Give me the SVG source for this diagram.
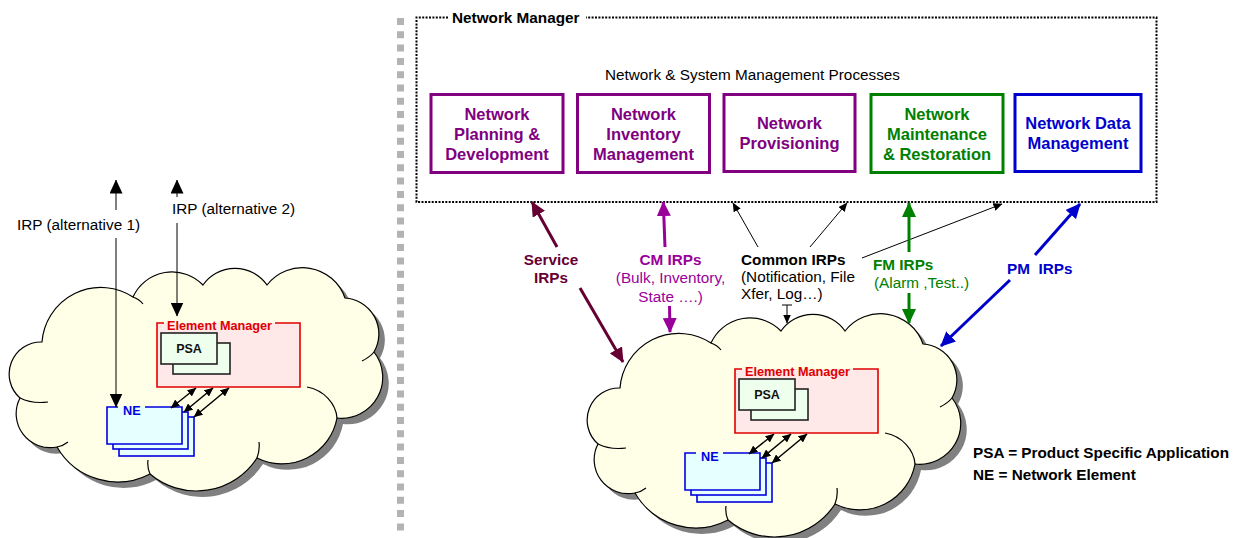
<svg xmlns="http://www.w3.org/2000/svg" width="1239" height="538" viewBox="0 0 1239 538">
<style>
text{font-family:"Liberation Sans",Arial,Helvetica,sans-serif;}
.b{font-weight:bold}
.s15{font-size:15.3px}
.s16{font-size:16.5px}
.s12{font-size:12.7px}
.mid{text-anchor:middle}
.cloud{fill:#FFFEE6;stroke:#000;stroke-width:1.2}
.shadow{fill:#808080;stroke:none}
.crease{fill:none;stroke:#000;stroke-width:1.2}
.proc{fill:#fff;stroke-width:3}
.emf{fill:#FFE8E8;stroke:none}
.emb{fill:none;stroke:#E00000;stroke-width:1.6}
.psa{fill:#EEFFEE;stroke:#222;stroke-width:1.6}
.nef{fill:#E6FFFF;stroke:#0000E0;stroke-width:1.6}
.nefill{fill:#E6FFFF;stroke:none}
.neb{fill:none;stroke:#0000E0;stroke-width:1.6}
.ln1{fill:none;stroke:#000;stroke-width:1}
.lnM{fill:none;stroke:#000;stroke-width:1.5}
.thick{fill:none;stroke-width:3}
</style>
<defs>
<path id="cloudPath" d="M42,342 A59,59 0 0 1 133,297 A43,43 0 0 1 203,285 A39,39 0 0 1 267,285 A45,45 0 0 1 345,298 A36,36 0 0 1 374,352 A41,41 0 0 1 337,418 A56,56 0 0 1 257,458 A72,72 0 0 1 150,474 A70,70 0 0 1 57,447 A34,34 0 0 1 20,398 A32,32 0 0 1 42,342 Z"/>
<path id="cloudCreases" d="M20,398 Q32,404 48,402 M57,447 Q63,446 68,442 M150,474 Q147,467 148,460 M257,458 Q260,450 259,442 M337,418 C336,404 324,390 307,387 M374,352 Q370,357 362,361 M133,297 Q139,299 143,304"/>
<marker id="hBlkL" markerUnits="userSpaceOnUse" viewBox="0 0 14 13" markerWidth="14" markerHeight="13" refX="13.5" refY="6.5" orient="auto-start-reverse"><path d="M0,0 L14,6.5 L0,13 Z" fill="#000"/></marker>
<marker id="hBlkS" markerUnits="userSpaceOnUse" viewBox="0 0 9 8" markerWidth="9" markerHeight="8" refX="8.5" refY="4" orient="auto-start-reverse"><path d="M0,0 L9,4 L0,8 Z" fill="#000"/></marker>
<marker id="hMaroon" markerUnits="userSpaceOnUse" viewBox="0 0 15 14" markerWidth="15" markerHeight="14" refX="14" refY="7" orient="auto-start-reverse"><path d="M0,0 L15,7 L0,14 Z" fill="#660033"/></marker>
<marker id="hPurple" markerUnits="userSpaceOnUse" viewBox="0 0 15 14" markerWidth="15" markerHeight="14" refX="14" refY="7" orient="auto-start-reverse"><path d="M0,0 L15,7 L0,14 Z" fill="#990099"/></marker>
<marker id="hGreen" markerUnits="userSpaceOnUse" viewBox="0 0 15 14" markerWidth="15" markerHeight="14" refX="14" refY="7" orient="auto-start-reverse"><path d="M0,0 L15,7 L0,14 Z" fill="#008000"/></marker>
<marker id="hBlue" markerUnits="userSpaceOnUse" viewBox="0 0 15 14" markerWidth="15" markerHeight="14" refX="14" refY="7" orient="auto-start-reverse"><path d="M0,0 L15,7 L0,14 Z" fill="#0000CC"/></marker>
</defs>

<!-- separator -->
<line id="separator" x1="400.5" y1="18" x2="400.5" y2="533" stroke="#B3B3B3" stroke-width="7" stroke-dasharray="7 6.3"/>

<!-- left cloud -->
<g id="cloudLeft">
<use href="#cloudPath" class="shadow" transform="translate(6,6)"/>
<use href="#cloudPath" class="cloud"/>
<use href="#cloudCreases" class="crease"/>
</g>

<!-- right cloud -->
<g id="cloudRight" transform="translate(578,46)">
<use href="#cloudPath" class="shadow" transform="translate(6,6)"/>
<use href="#cloudPath" class="cloud"/>
<use href="#cloudCreases" class="crease"/>
</g>

<!-- Network Manager container -->
<g id="networkManager">
<path d="M448,17.5 H416.5 V202 H1156.5 V17.5 H586" fill="none" stroke="#000" stroke-width="2" stroke-dasharray="2 1.4"/>
<text x="452" y="22.5" class="b s15">Network Manager</text>
<text x="752.5" y="80" class="s15 mid">Network &amp; System Management Processes</text>
</g>

<g id="procPlanning">
<rect x="431" y="94.5" width="132" height="78" class="proc" stroke="#800080"/>
<text class="b s16 mid" fill="#800080"><tspan x="497" y="120">Network</tspan><tspan x="497" y="140">Planning &amp;</tspan><tspan x="497" y="160">Development</tspan></text>
</g>
<g id="procInventory">
<rect x="577.5" y="94.5" width="132" height="78" class="proc" stroke="#800080"/>
<text class="b s16 mid" fill="#800080"><tspan x="643.5" y="120">Network</tspan><tspan x="643.5" y="140">Inventory</tspan><tspan x="643.5" y="160">Management</tspan></text>
</g>
<g id="procProvisioning">
<rect x="724" y="94.5" width="131" height="77" class="proc" stroke="#800080"/>
<text class="b s16 mid" fill="#800080"><tspan x="789.5" y="129">Network</tspan><tspan x="789.5" y="149">Provisioning</tspan></text>
</g>
<g id="procMaintenance">
<rect x="871" y="94.5" width="132" height="78" class="proc" stroke="#008000"/>
<text class="b s16 mid" fill="#008000"><tspan x="937" y="120">Network</tspan><tspan x="937" y="140">Maintenance</tspan><tspan x="937" y="160">&amp; Restoration</tspan></text>
</g>
<g id="procData">
<rect x="1015" y="94.5" width="126" height="77" class="proc" stroke="#0000CC"/>
<text class="b s16 mid" fill="#0000CC"><tspan x="1078" y="129">Network Data</tspan><tspan x="1078" y="149">Management</tspan></text>
</g>

<!-- left Element Manager -->
<g id="emLeft">
<rect x="157" y="323" width="143" height="64" class="emf"/>
<path d="M164,323 H157 V387 H300 V323 H275" class="emb"/>
<text x="167" y="330" class="b s12" fill="#DD0000">Element Manager</text>
</g>
<g id="psaLeft">
<rect x="173" y="343" width="57" height="31" class="psa"/>
<rect x="161" y="333" width="56" height="31" class="psa"/>
<text x="189" y="353" class="b mid" font-size="12.5" fill="#111">PSA</text>
</g>
<g id="neLeft">
<rect x="119" y="417" width="75" height="39" class="nef"/>
<rect x="113" y="412" width="75" height="37" class="nef"/>
<rect x="107" y="407" width="75" height="37" class="nefill"/>
<path d="M118,407 H107 V444 H182 V407 H145" class="neb"/>
<text x="123" y="415" class="b s12" fill="#0000E0">NE</text>
</g>

<!-- right Element Manager -->
<g id="emRight">
<rect x="735" y="369" width="143" height="64" class="emf"/>
<path d="M742,369 H735 V433 H878 V369 H853" class="emb"/>
<text x="745" y="376" class="b s12" fill="#DD0000">Element Manager</text>
</g>
<g id="psaRight">
<rect x="751" y="389" width="57" height="31" class="psa"/>
<rect x="739" y="379" width="56" height="31" class="psa"/>
<text x="767" y="399" class="b mid" font-size="12.5" fill="#111">PSA</text>
</g>
<g id="neRight">
<rect x="697" y="463" width="75" height="39" class="nef"/>
<rect x="691" y="458" width="75" height="37" class="nef"/>
<rect x="685" y="453" width="75" height="37" class="nefill"/>
<path d="M696,453 H685 V490 H760 V453 H723" class="neb"/>
<text x="701" y="461" class="b s12" fill="#0000E0">NE</text>
</g>

<!-- connectors -->
<g id="connectors">
<path d="M116,210 V180" class="ln1" marker-end="url(#hBlkL)"/>
<path d="M116,238 V407" class="ln1" marker-end="url(#hBlkL)"/>
<path d="M177,197 V180" class="ln1" marker-end="url(#hBlkL)"/>
<path d="M177,223 V316" class="ln1" marker-end="url(#hBlkL)"/>
<path d="M196,388 L171,408" class="lnM" marker-start="url(#hBlkS)" marker-end="url(#hBlkS)"/>
<path d="M213,388 L184,412" class="lnM" marker-start="url(#hBlkS)" marker-end="url(#hBlkS)"/>
<path d="M229,388 L194,417" class="lnM" marker-start="url(#hBlkS)" marker-end="url(#hBlkS)"/>
<path d="M774,434 L749,454" class="lnM" marker-start="url(#hBlkS)" marker-end="url(#hBlkS)"/>
<path d="M791,434 L762,458" class="lnM" marker-start="url(#hBlkS)" marker-end="url(#hBlkS)"/>
<path d="M807,434 L772,463" class="lnM" marker-start="url(#hBlkS)" marker-end="url(#hBlkS)"/>
<path d="M557,247 L532,202" class="thick" stroke="#660033" marker-end="url(#hMaroon)"/>
<path d="M580,288 L623,362" class="thick" stroke="#660033" marker-end="url(#hMaroon)"/>
<path d="M665,247 L663.3,202" class="thick" stroke="#990099" marker-end="url(#hPurple)"/>
<path d="M669.5,306 L670,332" class="thick" stroke="#990099" marker-end="url(#hPurple)"/>
<path d="M758,247 L733,203" class="ln1" marker-end="url(#hBlkS)"/>
<path d="M810,247 L847,203" class="ln1" marker-end="url(#hBlkS)"/>
<path d="M862,258 L1002,204" class="ln1" marker-end="url(#hBlkS)"/>
<path d="M782,305 H792" class="ln1"/>
<path d="M787,305 V323" class="ln1" marker-end="url(#hBlkS)"/>
<path d="M909,252 V203" class="thick" stroke="#008000" marker-end="url(#hGreen)"/>
<path d="M909,293 V323" class="thick" stroke="#008000" marker-end="url(#hGreen)"/>
<path d="M1035,255 L1080,204" class="thick" stroke="#0000CC" marker-end="url(#hBlue)"/>
<path d="M1010,280 L941,346" class="thick" stroke="#0000CC" marker-end="url(#hBlue)"/>
</g>

<!-- connector labels -->
<g id="labels">
<text x="78.5" y="230" class="s15 mid">IRP (alternative 1)</text>
<text x="172" y="214" class="s15">IRP (alternative 2)</text>
<text class="b s15 mid" fill="#660033"><tspan x="551" y="265">Service</tspan><tspan x="551" y="283">IRPs</tspan></text>
<text class="s15 mid" fill="#990099"><tspan x="670.5" y="265" class="b">CM IRPs</tspan><tspan x="670.5" y="283">(Bulk, Inventory,</tspan><tspan x="670.5" y="302">State ….)</tspan></text>
<text class="s15" fill="#000"><tspan x="741" y="265" class="b">Common IRPs</tspan><tspan x="741" y="282">(Notification, File</tspan><tspan x="741" y="299">Xfer, Log…)</tspan></text>
<text class="s15" fill="#008000"><tspan x="873" y="270" class="b">FM IRPs</tspan><tspan x="874" y="288">(Alarm ,Test..)</tspan></text>
<text x="1007" y="274" class="b s15" fill="#0000CC" xml:space="preserve">PM  IRPs</text>
</g>

<!-- legend -->
<g id="legend">
<text x="973" y="458" class="b s15">PSA = Product Specific Application</text>
<text x="973" y="480" class="b s15">NE = Network Element</text>
</g>
</svg>
